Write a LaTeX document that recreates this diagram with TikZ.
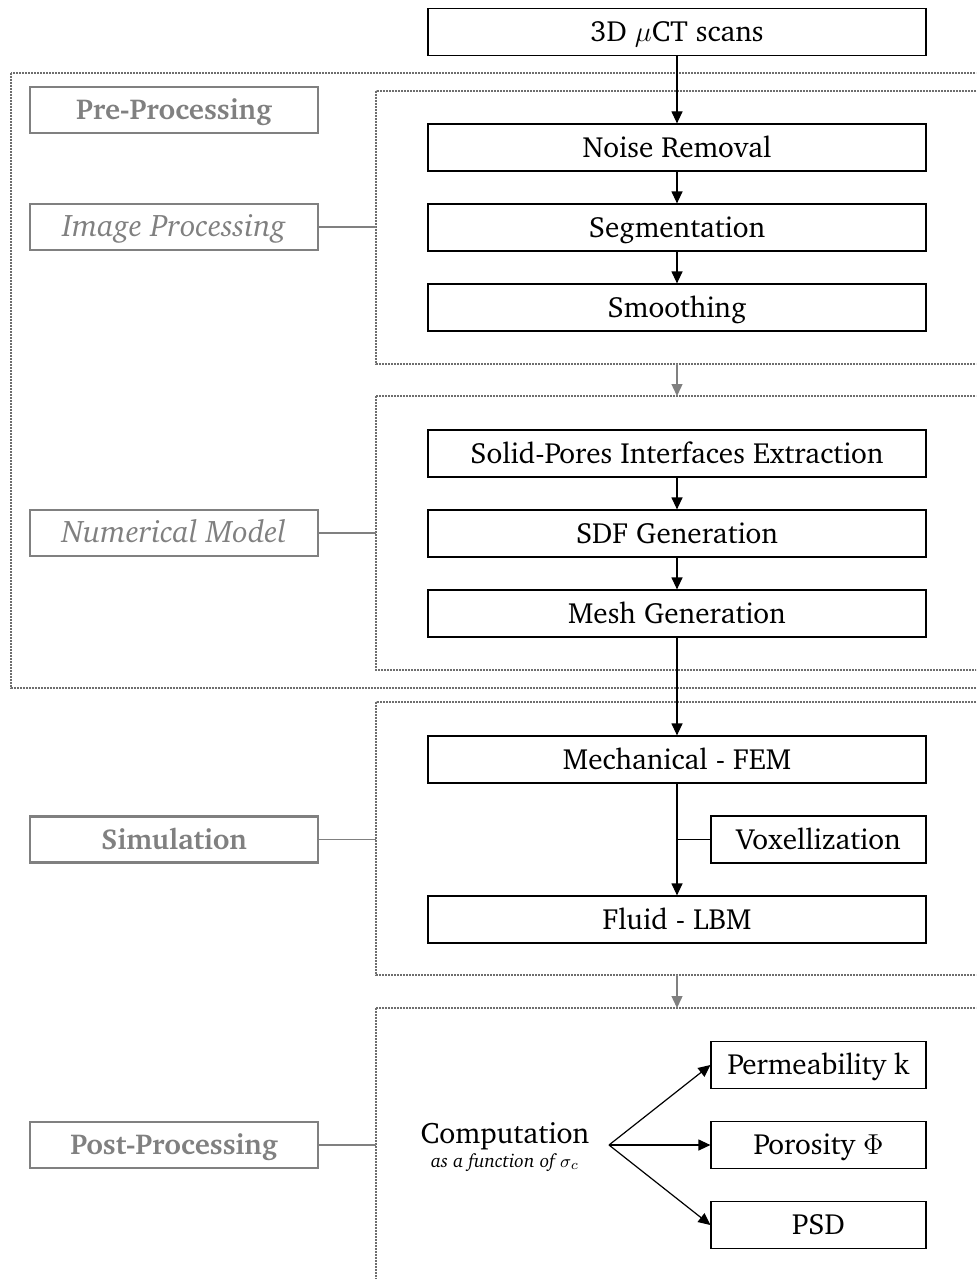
\documentclass[tikz,border=0pt]{standalone}
\usepackage[T1]{fontenc}
\usepackage{charter}
\usetikzlibrary{arrows.meta}
\definecolor{labelgray}{RGB}{128,128,128}
\definecolor{framegray}{RGB}{110,110,110}
\newcommand{\boxfont}{\fontsize{14.6}{17}\selectfont}
\tikzset{
  procbox/.style={draw, line width=0.6pt, minimum width=249pt, minimum height=23.5pt, inner sep=0pt, text height=9.8pt, text depth=0pt, font=\boxfont},
  smallbox/.style={procbox, minimum width=107.5pt},
  labelbox/.style={draw=labelgray, text=labelgray, line width=1.1pt, minimum width=144pt, minimum height=23pt, inner sep=0pt, text height=9.8pt, text depth=0pt, font=\boxfont},
  grp/.style={draw=framegray, line width=1.1pt, dash pattern=on 0.8pt off 0.7pt},
  flow/.style={line width=0.6pt, -{Triangle[length=6pt,width=5.5pt]}},
  grayflow/.style={draw=labelgray, line width=0.7pt, -{Triangle[length=6pt,width=5.5pt]}, labelgray},
  tie/.style={line width=0.5pt},
  graytie/.style={draw=labelgray, line width=0.7pt}
}
\begin{document}
\begin{tikzpicture}[x=0.5pt, y=-0.5pt]
\useasboundingbox (0,0) rectangle (976,1279);
\clip (0,0) rectangle (976,1279);

% dotted group frames
\draw[grp] (11,73) rectangle (1000,688);
\draw[grp] (376,91) rectangle (1000,364);
\draw[grp] (376,396) rectangle (1000,670);
\draw[grp] (376,702) rectangle (1000,975);
\draw[grp] (376,1008) rectangle (1000,1300);

% points on the frames
\coordinate (g1b) at (677,364);
\coordinate (g2t) at (677,396);
\coordinate (g3b) at (677,975);
\coordinate (g4t) at (677,1008);
\coordinate (g1w) at (376,227);
\coordinate (g2w) at (376,533);
\coordinate (g3w) at (376,839.5);
\coordinate (g4w) at (376,1145);

% process steps
\node[procbox] (ct) at (677,32) {3D $\mu$CT scans};
\node[procbox] (noise) at (677,147.5) {Noise Removal};
\node[procbox] (seg) at (677,227.5) {Segmentation};
\node[procbox] (smooth) at (677,307.5) {Smoothing};
\node[procbox] (solid) at (677,453.5) {Solid-Pores Interfaces Extraction};
\node[procbox] (sdf) at (677,533.5) {SDF Generation};
\node[procbox] (mesh) at (677,613.5) {Mesh Generation};
\node[procbox] (mech) at (677,759.5) {Mechanical - FEM};
\node[smallbox] (vox) at (818.5,839.5) {Voxellization};
\node[procbox] (fluid) at (677,919.5) {Fluid - LBM};
\node[smallbox] (perm) at (818.5,1065) {Permeability k};
\node[smallbox] (poro) at (818.5,1145) {Porosity $\Phi$};
\node[smallbox] (psd) at (818.5,1225) {PSD};

% stage labels
\node[labelbox, font=\fontsize{14.4}{17}\selectfont\bfseries] (pre) at (174,110) {Pre-Processing};
\node[labelbox, font=\fontsize{15.6}{18}\selectfont\itshape] (img) at (174,227) {Image Processing};
\node[labelbox, font=\fontsize{15.6}{18}\selectfont\itshape] (num) at (174,533) {Numerical Model};
\node[labelbox, font=\fontsize{14.4}{17}\selectfont\bfseries] (sim) at (174,839.5) {Simulation};
\node[labelbox, font=\fontsize{14.4}{17}\selectfont\bfseries] (post) at (174,1145) {Post-Processing};

% computation
\node[font=\fontsize{14.8}{17}\selectfont, inner sep=0pt] (comp) at (505,1136) {Computation};
\node[font=\fontsize{9.5}{11}\selectfont\itshape, inner sep=0pt] (compsub) at (505,1162) {as a function of $\sigma_c$};
\coordinate (fork) at (609,1145);

% flow
\draw[flow] (ct) -- (noise);
\draw[flow] (noise) -- (seg);
\draw[flow] (seg) -- (smooth);
\draw[flow] (solid) -- (sdf);
\draw[flow] (sdf) -- (mesh);
\draw[flow] (mesh) -- (mech);
\draw[flow] (mech) -- (fluid);
\coordinate (vj) at (mech.south |- vox.west);
\draw[tie] (vox.west) -- (vj);
\draw[grayflow] (g1b) -- (g2t);
\draw[grayflow] (g3b) -- (g4t);
\draw[flow] (fork) -- (perm.west);
\draw[flow] (fork) -- (poro.west);
\draw[flow] (fork) -- (psd.west);

% label ties
\draw[graytie] (img.east) -- (g1w);
\draw[graytie] (num.east) -- (g2w);
\draw[graytie] (sim.east) -- (g3w);
\draw[graytie] (post.east) -- (g4w);
\end{tikzpicture}
\end{document}
